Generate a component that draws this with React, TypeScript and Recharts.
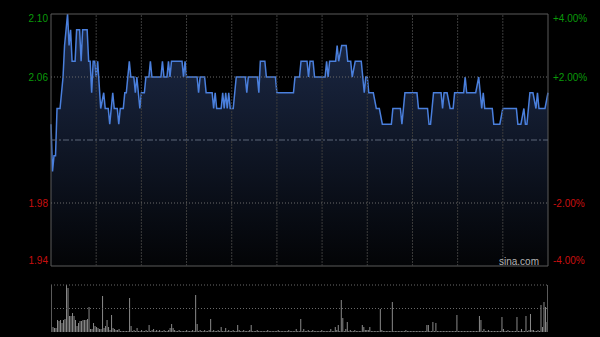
import React from 'react';
import { AreaChart, Area, BarChart, Bar, XAxis, YAxis, ReferenceLine, ReferenceArea } from 'recharts';

// Intraday price vertices (minute index from 09:30, HK session = 330 minutes)
const priceMinutes = [
  0, 1, 2, 3, 4, 6, 7, 8, 9, 10, 11, 12, 13, 14, 16, 17, 19, 20, 21, 24, 25, 26, 27, 28, 29, 30, 31, 33, 35, 36, 38, 39,
  41, 42, 44, 45, 46, 48, 49, 50, 52, 53, 55, 56, 57, 59, 60, 62, 63, 65, 66, 67, 73, 74, 75, 77, 78, 79, 80, 87, 88, 89,
  90, 97, 98, 99, 102, 103, 107, 108, 109, 110, 113, 114, 115, 116, 117, 118, 119, 121, 122, 123, 129, 130, 131, 137, 138,
  139, 142, 143, 149, 150, 161, 162, 165, 166, 170, 171, 172, 174, 175, 182, 183, 184, 185, 189, 190, 191, 193, 196, 197,
  199, 200, 202, 206, 207, 208, 209, 210, 211, 214, 216, 218, 220, 226, 227, 232, 233, 235, 243, 244, 250, 251, 252, 254,
  259, 260, 261, 263, 265, 267, 268, 274, 275, 276, 282, 284, 285, 286, 287, 288, 293, 294, 298, 300, 309, 310, 312, 314,
  315, 316, 318, 320, 322, 323, 324, 328, 330,
];
const priceValues = [
  2.03, 2.0, 2.01, 2.01, 2.04, 2.04, 2.05, 2.06, 2.08, 2.09, 2.1, 2.08, 2.09, 2.07, 2.07, 2.09, 2.09, 2.07, 2.09, 2.09, 2.07, 2.07, 2.05, 2.07, 2.07, 2.06, 2.07, 2.04, 2.05, 2.04, 2.04, 2.03,
  2.05, 2.04, 2.04, 2.03, 2.04, 2.04, 2.05, 2.05, 2.07, 2.06, 2.06, 2.05, 2.06, 2.04, 2.05, 2.05, 2.06, 2.06, 2.07, 2.06, 2.06, 2.07, 2.06, 2.06, 2.07, 2.06, 2.07, 2.07, 2.06, 2.07,
  2.06, 2.06, 2.05, 2.06, 2.06, 2.05, 2.05, 2.04, 2.05, 2.04, 2.04, 2.05, 2.04, 2.05, 2.04, 2.05, 2.04, 2.04, 2.05, 2.06, 2.06, 2.05, 2.06, 2.06, 2.05,
  2.07, 2.07, 2.06, 2.06, 2.05, 2.05, 2.06, 2.06, 2.07, 2.07, 2.06, 2.07, 2.07, 2.06, 2.06, 2.07, 2.06, 2.07, 2.07, 2.08, 2.07, 2.08, 2.08, 2.07,
  2.07, 2.06, 2.07, 2.07, 2.06, 2.05, 2.06, 2.06, 2.05, 2.05, 2.04, 2.04, 2.03, 2.03, 2.04, 2.04, 2.03, 2.05, 2.05, 2.04, 2.04, 2.03, 2.03, 2.05,
  2.05, 2.04, 2.05, 2.05, 2.04, 2.04, 2.05, 2.05, 2.06, 2.05, 2.05, 2.06, 2.05, 2.04, 2.05, 2.04, 2.04, 2.03, 2.03, 2.04, 2.04, 2.03, 2.03, 2.04,
  2.03, 2.03, 2.05, 2.05, 2.04, 2.05, 2.04, 2.04, 2.05,
];

// Per-minute volume (relative units)
const volumeValues = [
  12, 5, 4, 4, 12, 11, 12, 9, 12, 13,
  47, 44, 16, 16, 19, 16, 12, 6, 9, 11,
  11, 12, 12, 12, 13, 25, 3, 3, 9, 6,
  5, 4, 3, 3, 36, 4, 6, 12, 5, 2,
  17, 4, 3, 2, 2, 3, 1, 1, 1, 1,
  1, 1, 34, 6, 1, 2, 1, 4, 1, 1,
  2, 1, 1, 2, 1, 7, 1, 2, 3, 1,
  2, 1, 2, 1, 1, 2, 1, 1, 2, 4,
  8, 4, 2, 1, 1, 2, 1, 1, 1, 1,
  2, 1, 1, 1, 2, 1, 37, 8, 1, 2,
  1, 1, 2, 1, 1, 2, 13, 1, 2, 1,
  1, 2, 1, 5, 1, 1, 4, 1, 2, 1,
  1, 2, 1, 1, 7, 2, 1, 1, 2, 1,
  1, 1, 2, 7, 1, 1, 1, 2, 1, 1,
  1, 1, 1, 1, 2, 1, 1, 1, 1, 1,
  1, 2, 1, 1, 1, 1, 1, 1, 2, 1,
  1, 1, 1, 3, 1, 1, 13, 1, 3, 1,
  1, 2, 1, 1, 2, 1, 1, 1, 1, 1,
  2, 1, 1, 1, 1, 1, 3, 1, 1, 5,
  2, 7, 1, 32, 14, 1, 3, 10, 1, 2,
  1, 1, 2, 1, 1, 1, 1, 7, 5, 2,
  2, 2, 5, 1, 1, 1, 1, 1, 1, 23,
  2, 1, 1, 1, 1, 1, 1, 30, 1, 1,
  1, 1, 1, 1, 1, 1, 2, 1, 1, 1,
  1, 1, 1, 1, 1, 1, 1, 1, 1, 1,
  7, 7, 1, 1, 10, 1, 9, 1, 1, 1,
  1, 1, 1, 1, 1, 1, 1, 1, 1, 1,
  17, 1, 1, 1, 1, 1, 1, 1, 1, 1,
  1, 1, 1, 1, 1, 16, 12, 1, 3, 1,
  1, 2, 1, 1, 1, 1, 1, 1, 1, 1,
  15, 3, 1, 1, 2, 1, 1, 1, 1, 1,
  15, 1, 1, 3, 1, 1, 16, 1, 2, 18,
  2, 2, 1, 1, 2, 1, 27, 5, 30, 25,
  10,
];

const prevClose = 2.02;
const priceTicks = [1.94, 1.98, 2.06, 2.1];
const priceTickLabels = ['1.94', '1.98', '2.06', '2.10'];
const pctTickLabels = ['-4.00%', '-2.00%', '+2.00%', '+4.00%'];
const gridMinutes = [30, 60, 90, 120, 150, 180, 210, 240, 270, 300];
const dottedLevels = [1.98, 2.06];

const priceData = priceMinutes.map((m, i) => ({ m, price: priceValues[i] }));
const volumeData = volumeValues.map((v, i) => ({ m: i, vol: v }));

const FONT = '"Liberation Sans", Arial, sans-serif';
const GREEN = '#0a9a0a';
const RED = '#c80f0f';

const tickIndex = (v: number) => priceTicks.findIndex((t) => Math.abs(t - v) < 1e-6);
const tickShift = (v: number) => (Math.abs(v - 2.1) < 1e-6 ? 4 : Math.abs(v - 1.94) < 1e-6 ? -6 : 0);

const LeftTick = (props: any) => {
  const { x, y, payload } = props;
  const v = payload.value as number;
  const i = tickIndex(v);
  return (
    <text x={x} y={y + tickShift(v)} dy="0.35em" textAnchor="end" fill={v > prevClose ? GREEN : RED} fontSize={10} fontFamily={FONT}>
      {priceTickLabels[i]}
    </text>
  );
};

const RightTick = (props: any) => {
  const { x, y, payload } = props;
  const v = payload.value as number;
  const i = tickIndex(v);
  return (
    <text x={x} y={y + tickShift(v)} dy="0.35em" textAnchor="start" fill={v > prevClose ? GREEN : RED} fontSize={10} fontFamily={FONT}>
      {pctTickLabels[i]}
    </text>
  );
};

export default function App() {
  return (
    <div style={{ position: 'fixed', left: 0, top: 0, width: 600, height: 337, background: '#000', overflow: 'hidden' }}>
      <div style={{ position: 'absolute', left: 0, top: 0 }}>
        <AreaChart width={600} height={337} data={priceData} margin={{ top: 14, right: 0, bottom: 71, left: 0 }}>
          <defs>
            <linearGradient id="priceFill" x1="0" y1="0" x2="0" y2="1">
              <stop offset="0%" stopColor="#1d2b4a" />
              <stop offset="100%" stopColor="#030406" />
            </linearGradient>
          </defs>
          <XAxis dataKey="m" type="number" domain={[0, 330]} hide xAxisId="x" />
          <YAxis
            yAxisId="left"
            domain={[1.94, 2.1]}
            ticks={priceTicks}
            width={51}
            axisLine={false}
            tickLine={false}
            tickSize={0}
            tickMargin={3}
            tick={<LeftTick />}
            allowDataOverflow
          />
          <YAxis
            yAxisId="right"
            orientation="right"
            domain={[1.94, 2.1]}
            ticks={priceTicks}
            width={52}
            axisLine={false}
            tickLine={false}
            tickSize={0}
            tickMargin={5}
            tick={<RightTick />}
            allowDataOverflow
          />
          <Area
            xAxisId="x"
            yAxisId="left"
            type="linear"
            dataKey="price"
            stroke="#4a7fdc"
            strokeWidth={1.5}
            fill="url(#priceFill)"
            fillOpacity={1}
            isAnimationActive={false}
            dot={false}
            activeDot={false}
          />
          {gridMinutes.map((m) => (
            <ReferenceLine key={m} xAxisId="x" yAxisId="left" x={m} stroke="#3c3c3c" strokeDasharray="2 1" />
          ))}
          {dottedLevels.map((v) => (
            <ReferenceLine key={v} xAxisId="x" yAxisId="left" y={v} stroke="#6a6a6a" strokeDasharray="1 2" />
          ))}
          <ReferenceLine xAxisId="x" yAxisId="left" y={prevClose} stroke="#5d6678" strokeDasharray="6 2 2 2" />
          <ReferenceArea xAxisId="x" yAxisId="left" x1={0} x2={330} y1={1.94} y2={2.1} fill="none" stroke="#5a5a5a" strokeWidth={1} />
        </AreaChart>
      </div>
      <div
        style={{ position: 'absolute', left: 499, top: 256, fontSize: 10, color: '#b4b4b4', fontFamily: FONT, lineHeight: '11px' }}
      >
        sina.com
      </div>
      <div style={{ position: 'absolute', left: 0, top: 0 }}>
        <BarChart width={600} height={337} data={volumeData} margin={{ top: 285, right: 52, bottom: 5, left: 51 }} barCategoryGap={0}>
          <XAxis dataKey="m" hide />
          <YAxis hide domain={[0, 47]} />
          <ReferenceLine y={47} stroke="#6a6a6a" strokeDasharray="1 2" />
          <ReferenceLine y={23.5} stroke="#6a6a6a" strokeDasharray="1 2" />
          <Bar dataKey="vol" fill="#8a8a8a" barSize={1} isAnimationActive={false} />
        </BarChart>
      </div>
      <div style={{ position: 'absolute', left: 51, top: 285, width: 0, height: 47, borderLeft: '1px solid #5a5a5a' }} />
      <div style={{ position: 'absolute', left: 547, top: 285, width: 0, height: 47, borderLeft: '1px solid #5a5a5a' }} />
    </div>
  );
}
